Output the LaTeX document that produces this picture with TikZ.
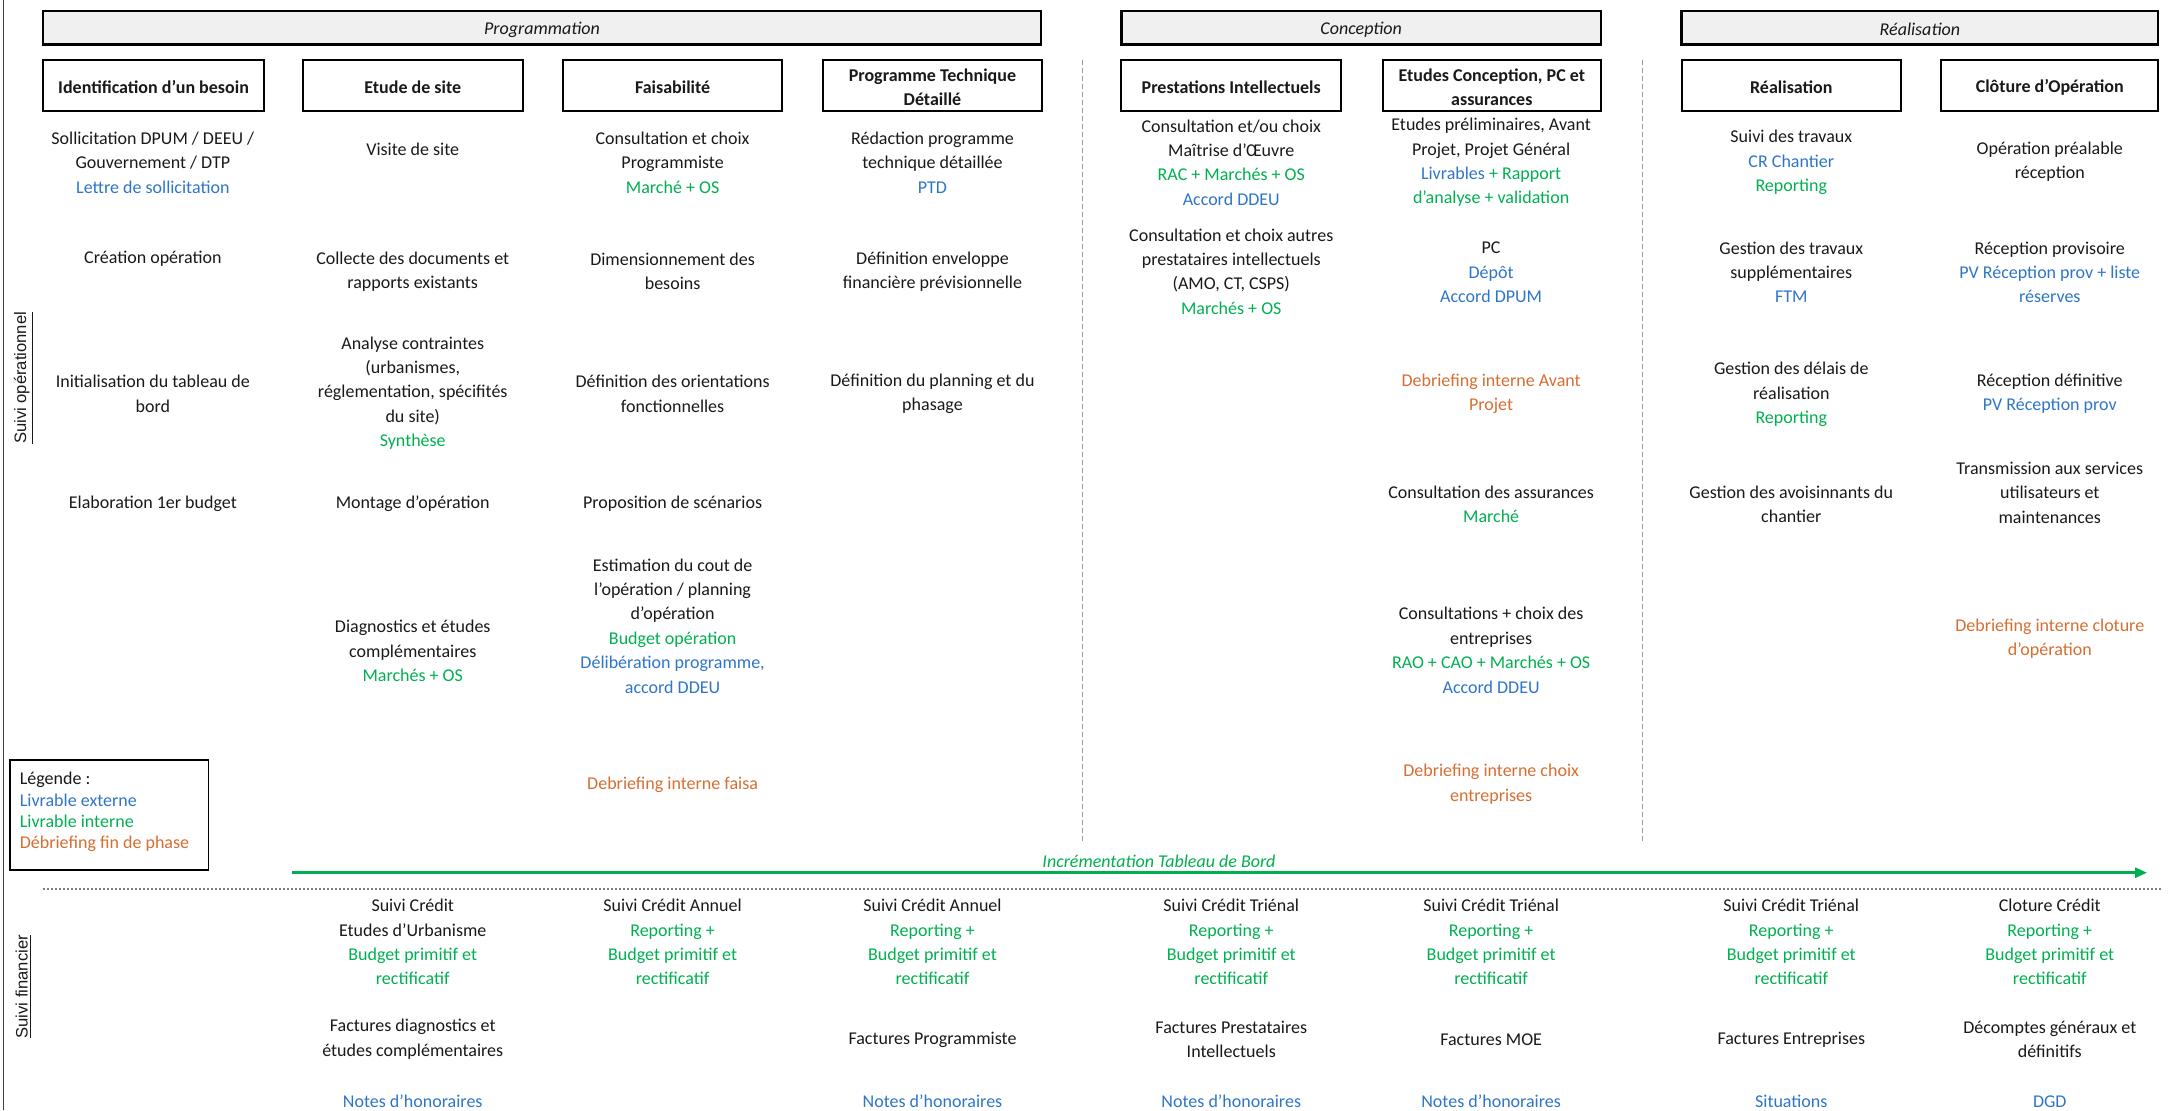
\documentclass[tikz,border=0pt]{standalone}
\usepackage{fontspec}
\setmainfont{Carlito}
\newfontfamily\sidefont{Liberation Sans}
\usetikzlibrary{arrows.meta,fit}
\definecolor{cblue}{RGB}{46,117,200}
\definecolor{cgreen}{RGB}{0,176,80}
\definecolor{corange}{RGB}{214,110,50}
\definecolor{ctext}{RGB}{25,25,25}
\newcommand{\txb}[1]{\textcolor{cblue}{#1}}
\newcommand{\txg}[1]{\textcolor{cgreen}{#1}}
\newcommand{\txo}[1]{\textcolor{corange}{#1}}
\begin{document}
\begin{tikzpicture}[x=0.69485pt,y=-0.69485pt,
  txt/.style={align=center,inner sep=0pt,yshift=-1pt,font=\fontsize{9}{12.2}\selectfont,text=ctext},
  phasebox/.style={draw=black,line width=1.2pt,fill=black!6,inner sep=0pt},
  stepbox/.style={draw=black,line width=1pt,fill=white,inner sep=0pt},
  hdr/.style={align=center,inner sep=0pt,yshift=-1pt,font=\fontsize{9}{12}\selectfont\bfseries,text=ctext},
  phtxt/.style={inner sep=0pt,yshift=-1pt,font=\fontsize{9}{11}\selectfont\itshape,text=ctext},
  sidelbl/.style={rotate=90,inner sep=0pt,font=\sidefont\fontsize{8.3}{10}\selectfont,text=ctext},
  sepline/.style={draw=gray!80,line width=0.6pt,dash pattern=on 2.5pt off 1.5pt},
]
\useasboundingbox (0,0) rectangle (1568,799);
% left border
\coordinate (lbT) at (2.5,0);
\coordinate (lbB) at (2.5,799);
\draw[gray!50!black,line width=0.8pt] (lbT) -- (lbB);

% phase boxes
\node[phasebox,fit={(31,8)(749,32)}] (ph1) {};
\node[phtxt] (ph1t) at (ph1.center) {Programmation};
\node[phasebox,fit={(807,8)(1152,32)}] (ph2) {};
\node[phtxt] (ph2t) at (ph2.center) {Conception};
\node[phasebox,fit={(1210,8)(1553,32)}] (ph3) {};
\node[phtxt] (ph3t) at (ph3.center) {Réalisation};

% step boxes
\node[stepbox,fit={(31,43)(190,80)}] (s1) {};
\node[hdr] (s1t) at (s1.center) {Identification d'un besoin};
\node[stepbox,fit={(218,43)(376,80)}] (s2) {};
\node[hdr] (s2t) at (s2.center) {Etude de site};
\node[stepbox,fit={(405,43)(563,80)}] (s3) {};
\node[hdr] (s3t) at (s3.center) {Faisabilité};
\node[stepbox,fit={(592,43)(750,80)}] (s4) {};
\node[hdr] (s4t) at (s4.center) {Programme Technique\\Détaillé};
\node[stepbox,fit={(807,43)(965,80)}] (s5) {};
\node[hdr] (s5t) at (s5.center) {Prestations Intellectuels};
\node[stepbox,fit={(995,43)(1152,80)}] (s6) {};
\node[hdr] (s6t) at (s6.center) {Etudes Conception, PC et\\assurances};
\node[stepbox,fit={(1210,43)(1368,80)}] (s7) {};
\node[hdr] (s7t) at (s7.center) {Réalisation};
\node[stepbox,fit={(1397,43)(1553,80)}] (s8) {};
\node[hdr] (s8t) at (s8.center) {Clôture d'Opération};

% separators
\coordinate (sp1T) at (779,43);
\coordinate (sp1B) at (779,605);
\coordinate (sp2T) at (1182,43);
\coordinate (sp2B) at (1182,607);
\draw[sepline] (sp1T) -- (sp1B);
\draw[sepline] (sp2T) -- (sp2B);

% column 1
\node[txt] (n11) at (110,115.5) {Sollicitation DPUM / DEEU /\\Gouvernement / DTP\\\txb{Lettre de sollicitation}};
\node[txt] (n12) at (110,185) {Création opération};
\node[txt] (n13) at (110,282) {Initialisation du tableau de\\bord};
\node[txt] (n14) at (110,361) {Elaboration 1er budget};

% column 2
\node[txt] (n21) at (297,106) {Visite de site};
\node[txt] (n22) at (297,194) {Collecte des documents et\\rapports existants};
\node[txt] (n23) at (297,281.5) {Analyse contraintes\\(urbanismes,\\réglementation, spécifités\\du site)\\\txg{Synthèse}};
\node[txt] (n24) at (297,361) {Montage d'opération};
\node[txt] (n25) at (297,467) {Diagnostics et études\\complémentaires\\\txg{Marchés + OS}};

% column 3
\node[txt] (n31) at (484,115.5) {Consultation et choix\\Programmiste\\\txg{Marché + OS}};
\node[txt] (n32) at (484,194) {Dimensionnement des\\besoins};
\node[txt] (n33) at (484,282) {Définition des orientations\\fonctionnelles};
\node[txt] (n34) at (484,361) {Proposition de scénarios};
\node[txt] (n35) at (484,449) {Estimation du cout de\\l'opération / planning\\d'opération\\\txg{Budget opération}\\\txb{Délibération programme,}\\\txb{accord DDEU}};
\node[txt] (n36) at (484,563) {\txo{Debriefing interne faisa}};

% column 4
\node[txt] (n41) at (671,115.5) {Rédaction programme\\technique détaillée\\\txb{PTD}};
\node[txt] (n42) at (671,194) {Définition enveloppe\\financière prévisionnelle};
\node[txt] (n43) at (671,282) {Définition du planning et du\\phasage};

% column 5
\node[txt] (n51) at (886,115.5) {Consultation et/ou choix\\Maîtrise d'Œuvre\\\txg{RAC + Marchés + OS}\\\txb{Accord DDEU}};
\node[txt] (n52) at (886,194) {Consultation et choix autres\\prestataires intellectuels\\(AMO, CT, CSPS)\\\txg{Marchés + OS}};

% column 6
\node[txt] (n61) at (1073,115.5) {Etudes préliminaires, Avant\\Projet, Projet Général\\\txb{Livrables} \txg{+ Rapport}\\\txg{d'analyse + validation}};
\node[txt] (n62) at (1073,194.5) {PC\\\txb{Dépôt}\\\txb{Accord DPUM}};
\node[txt] (n63) at (1073,282) {\txo{Debriefing interne Avant}\\\txo{Projet}};
\node[txt] (n64) at (1073,361.5) {Consultation des assurances\\\txg{Marché}};
\node[txt] (n65) at (1073,466.5) {Consultations + choix des\\entreprises\\\txg{RAO + CAO + Marchés + OS}\\\txb{Accord DDEU}};
\node[txt] (n66) at (1073,563) {\txo{Debriefing interne choix}\\\txo{entreprises}};

% column 7
\node[txt] (n71) at (1289,115.5) {Suivi des travaux\\\txb{CR Chantier}\\\txg{Reporting}};
\node[txt] (n72) at (1289,194.5) {Gestion des travaux\\supplémentaires\\\txb{FTM}};
\node[txt] (n73) at (1289,282.5) {Gestion des délais de\\réalisation\\\txg{Reporting}};
\node[txt] (n74) at (1289,361.5) {Gestion des avoisinnants du\\chantier};

% column 8
\node[txt] (n81) at (1475,115) {Opération préalable\\réception};
\node[txt] (n82) at (1475,194.5) {Réception provisoire\\\txb{PV Réception prov + liste}\\\txb{réserves}};
\node[txt] (n83) at (1475,282) {Réception définitive\\\txb{PV Réception prov}};
\node[txt] (n84) at (1475,353) {Transmission aux services\\utilisateurs et\\maintenances};
\node[txt] (n85) at (1475,458) {\txo{Debriefing interne cloture}\\\txo{d'opération}};

% legend
\node[draw=black,line width=0.9pt,fit={(7,547)(150,626)},inner sep=0pt] (leg) {};
\node[anchor=west,align=left,inner sep=0pt,yshift=-1pt,font=\fontsize{9}{10.7}\selectfont,text=ctext] (legt) at (14,583) {Légende :\\\txb{Livrable externe}\\\txg{Livrable interne}\\\txo{Débriefing fin de phase}};

% arrow
\coordinate (arS) at (210,628);
\coordinate (arE) at (1545,628);
\draw[cgreen,line width=1.3pt,-{Triangle[length=6pt,width=5pt]}] (arS) -- (arE);
\node[inner sep=0pt,yshift=-1pt,font=\fontsize{9}{11}\selectfont\itshape,text=cgreen] (arL) at (834,618) {Incrémentation Tableau de Bord};

% dotted separator
\coordinate (dtS) at (31,640);
\coordinate (dtE) at (1555,640);
\draw[gray,line width=0.9pt,dash pattern=on 1pt off 1pt] (dtS) -- (dtE);

% side labels
\node[sidelbl] (sop) at (17,272) {\underline{Suivi opérationnel}};
\node[sidelbl] (sfi) at (17,710) {\underline{Suivi financier}};

% financial rows
\node[txt] (f2a) at (297,676.5) {Suivi Crédit\\Etudes d'Urbanisme\\\txg{Budget primitif et}\\\txg{rectificatif}};
\node[txt] (f3a) at (484,676.5) {Suivi Crédit Annuel\\\txg{Reporting +}\\\txg{Budget primitif et}\\\txg{rectificatif}};
\node[txt] (f4a) at (671,676.5) {Suivi Crédit Annuel\\\txg{Reporting +}\\\txg{Budget primitif et}\\\txg{rectificatif}};
\node[txt] (f5a) at (886,676.5) {Suivi Crédit Triénal\\\txg{Reporting +}\\\txg{Budget primitif et}\\\txg{rectificatif}};
\node[txt] (f6a) at (1073,676.5) {Suivi Crédit Triénal\\\txg{Reporting +}\\\txg{Budget primitif et}\\\txg{rectificatif}};
\node[txt] (f7a) at (1289,676.5) {Suivi Crédit Triénal\\\txg{Reporting +}\\\txg{Budget primitif et}\\\txg{rectificatif}};
\node[txt] (f8a) at (1475,676.5) {Cloture Crédit\\\txg{Reporting +}\\\txg{Budget primitif et}\\\txg{rectificatif}};

\node[txt] (f2b) at (297,746.5) {Factures diagnostics et\\études complémentaires};
\node[txt] (f4b) at (671,747) {Factures Programmiste};
\node[txt] (f5b) at (886,746.5) {Factures Prestataires\\Intellectuels};
\node[txt] (f6b) at (1073,747) {Factures MOE};
\node[txt] (f7b) at (1289,747) {Factures Entreprises};
\node[txt] (f8b) at (1475,746.5) {Décomptes généraux et\\définitifs};

\node[txt] (f2c) at (297,791) {\txb{Notes d'honoraires}};
\node[txt] (f4c) at (671,791) {\txb{Notes d'honoraires}};
\node[txt] (f5c) at (886,791) {\txb{Notes d'honoraires}};
\node[txt] (f6c) at (1073,791) {\txb{Notes d'honoraires}};
\node[txt] (f7c) at (1289,791) {\txb{Situations}};
\node[txt] (f8c) at (1475,791) {\txb{DGD}};
\end{tikzpicture}
\end{document}
